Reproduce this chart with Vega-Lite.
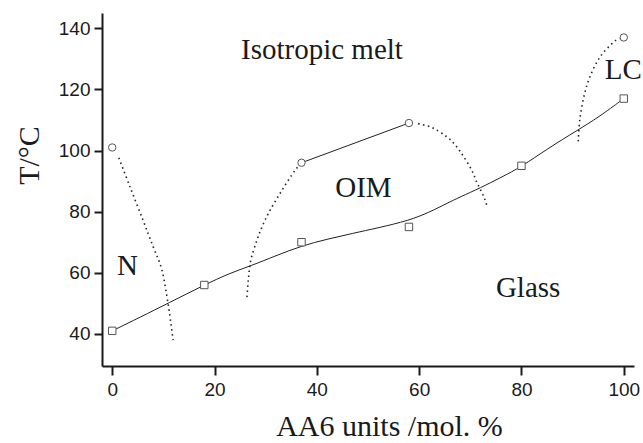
{
  "$schema": "https://vega.github.io/schema/vega-lite/v6.json",
  "width": 532,
  "height": 353,
  "autosize": "none",
  "padding": {"left": 102, "top": 13, "right": 9, "bottom": 77},
  "background": "white",
  "config": {"view": {"stroke": null}},
  "datasets": {
    "dotted": [
      {"seg": "N", "o": 1, "x": 1.3, "y": 97.6},
      {"seg": "N", "o": 2, "x": 3.5, "y": 88},
      {"seg": "N", "o": 3, "x": 6, "y": 77.3},
      {"seg": "N", "o": 4, "x": 8, "y": 68.5},
      {"seg": "N", "o": 5, "x": 9.7, "y": 61},
      {"seg": "N", "o": 6, "x": 10.9, "y": 50.1},
      {"seg": "N", "o": 7, "x": 11.5, "y": 43},
      {"seg": "N", "o": 8, "x": 11.9, "y": 38},
      {"seg": "L", "o": 1, "x": 36.2, "y": 94.5},
      {"seg": "L", "o": 2, "x": 35.1, "y": 92},
      {"seg": "L", "o": 3, "x": 33, "y": 86.5},
      {"seg": "L", "o": 4, "x": 30.9, "y": 80.6},
      {"seg": "L", "o": 5, "x": 29.4, "y": 75.5},
      {"seg": "L", "o": 6, "x": 28.3, "y": 70.7},
      {"seg": "L", "o": 7, "x": 27.1, "y": 64.2},
      {"seg": "L", "o": 8, "x": 26.6, "y": 57.5},
      {"seg": "L", "o": 9, "x": 26.3, "y": 51},
      {"seg": "R", "o": 1, "x": 59.8, "y": 108.8},
      {"seg": "R", "o": 2, "x": 62.5, "y": 107.5},
      {"seg": "R", "o": 3, "x": 65.4, "y": 104.5},
      {"seg": "R", "o": 4, "x": 67.2, "y": 101.5},
      {"seg": "R", "o": 5, "x": 68.7, "y": 98},
      {"seg": "R", "o": 6, "x": 70.3, "y": 93.5},
      {"seg": "R", "o": 7, "x": 71.3, "y": 89.5},
      {"seg": "R", "o": 8, "x": 72.2, "y": 86.5},
      {"seg": "R", "o": 9, "x": 72.9, "y": 83.8},
      {"seg": "R", "o": 10, "x": 73.3, "y": 81.5},
      {"seg": "C", "o": 1, "x": 91.1, "y": 103},
      {"seg": "C", "o": 2, "x": 91.4, "y": 110},
      {"seg": "C", "o": 3, "x": 92.2, "y": 117.6},
      {"seg": "C", "o": 4, "x": 93.4, "y": 124.2},
      {"seg": "C", "o": 5, "x": 95.4, "y": 130.7},
      {"seg": "C", "o": 6, "x": 98.1, "y": 135.6},
      {"seg": "C", "o": 7, "x": 99.2, "y": 136.5}
    ],
    "glasscurve": [
      {"x": 0, "y": 41}, {"x": 5.5, "y": 45.5}, {"x": 11, "y": 50.1}, {"x": 18, "y": 56},
      {"x": 23, "y": 59.9}, {"x": 27, "y": 62.2}, {"x": 32, "y": 65.6}, {"x": 37, "y": 68.8},
      {"x": 42, "y": 71}, {"x": 47, "y": 72.9}, {"x": 52, "y": 74.7}, {"x": 58, "y": 77.1},
      {"x": 62, "y": 79.8}, {"x": 65.4, "y": 82.7}, {"x": 68, "y": 84.8}, {"x": 72, "y": 87.8},
      {"x": 76, "y": 91.2}, {"x": 80, "y": 94.7}, {"x": 85, "y": 100.5}, {"x": 91, "y": 106.7},
      {"x": 95, "y": 110.8}, {"x": 100, "y": 117}
    ],
    "oimtop": [{"x": 37, "y": 96}, {"x": 58, "y": 109}],
    "squares": [
      {"x": 0, "y": 41}, {"x": 18, "y": 56}, {"x": 37, "y": 70},
      {"x": 58, "y": 75}, {"x": 80, "y": 95}, {"x": 100, "y": 117}
    ],
    "circles": [
      {"x": 0, "y": 101}, {"x": 37, "y": 96}, {"x": 58, "y": 109}, {"x": 100, "y": 137}
    ],
    "labels": [
      {"x": 41, "y": 132.9, "t": "Isotropic melt"},
      {"x": 49.1, "y": 87.9, "t": "OIM"},
      {"x": 3.0, "y": 62.3, "t": "N"},
      {"x": 81.3, "y": 55, "t": "Glass"},
      {"x": 99.9, "y": 126.4, "t": "LC"}
    ]
  },
  "layer": [
    {
      "data": {"name": "dotted"},
      "mark": {"type": "line", "interpolate": "cardinal", "color": "#222", "strokeWidth": 1.6, "strokeDash": [1.5, 3.5], "clip": true},
      "encoding": {
        "x": {"field": "x", "type": "quantitative", "scale": {"domain": [-2, 102], "nice": false, "zero": false},
          "axis": {"values": [0, 20, 40, 60, 80, 100], "title": "AA6 units /mol. %", "grid": false,
            "domainColor": "#1a1a1a", "domainWidth": 2, "tickColor": "#1a1a1a", "tickWidth": 2, "tickSize": 9,
            "labelFont": "Liberation Sans", "labelFontSize": 19, "labelColor": "#1a1a1a", "labelPadding": 5,
            "titleFont": "Liberation Serif", "titleFontSize": 30, "titleFontWeight": "normal", "titleColor": "#1a1a1a",
            "titleX": 287, "titleY": 69, "titleBaseline": "alphabetic", "labelFlush": false}},
        "y": {"field": "y", "type": "quantitative", "scale": {"domain": [29.5, 145], "nice": false, "zero": false},
          "axis": {"values": [40, 60, 80, 100, 120, 140], "title": "T/°C", "grid": false,
            "domainColor": "#1a1a1a", "domainWidth": 2, "tickColor": "#1a1a1a", "tickWidth": 2, "tickSize": 8,
            "labelFont": "Liberation Sans", "labelFontSize": 19, "labelColor": "#1a1a1a", "labelPadding": 4,
            "titleFont": "Liberation Serif", "titleFontSize": 30, "titleFontWeight": "normal", "titleColor": "#1a1a1a",
            "titleX": -64, "titleY": 142, "titleBaseline": "alphabetic", "labelFlush": false}},
        "detail": {"field": "seg"},
        "order": {"field": "o", "type": "quantitative"}
      }
    },
    {
      "data": {"name": "glasscurve"},
      "mark": {"type": "line", "interpolate": "basis", "color": "#222", "strokeWidth": 1},
      "encoding": {
        "x": {"field": "x", "type": "quantitative"},
        "y": {"field": "y", "type": "quantitative"}
      }
    },
    {
      "data": {"name": "oimtop"},
      "mark": {"type": "line", "color": "#222", "strokeWidth": 1},
      "encoding": {
        "x": {"field": "x", "type": "quantitative"},
        "y": {"field": "y", "type": "quantitative"}
      }
    },
    {
      "data": {"name": "squares"},
      "mark": {"type": "point", "shape": "square", "size": 55, "filled": true, "fill": "white", "stroke": "#555", "strokeWidth": 1, "opacity": 1},
      "encoding": {
        "x": {"field": "x", "type": "quantitative"},
        "y": {"field": "y", "type": "quantitative"}
      }
    },
    {
      "data": {"name": "circles"},
      "mark": {"type": "point", "shape": "circle", "size": 55, "filled": true, "fill": "white", "stroke": "#555", "strokeWidth": 1, "opacity": 1},
      "encoding": {
        "x": {"field": "x", "type": "quantitative"},
        "y": {"field": "y", "type": "quantitative"}
      }
    },
    {
      "data": {"name": "labels"},
      "mark": {"type": "text", "font": "Liberation Serif", "fontSize": 29, "color": "#1a1a1a", "baseline": "middle", "align": "center"},
      "encoding": {
        "x": {"field": "x", "type": "quantitative"},
        "y": {"field": "y", "type": "quantitative"},
        "text": {"field": "t"}
      }
    }
  ]
}
